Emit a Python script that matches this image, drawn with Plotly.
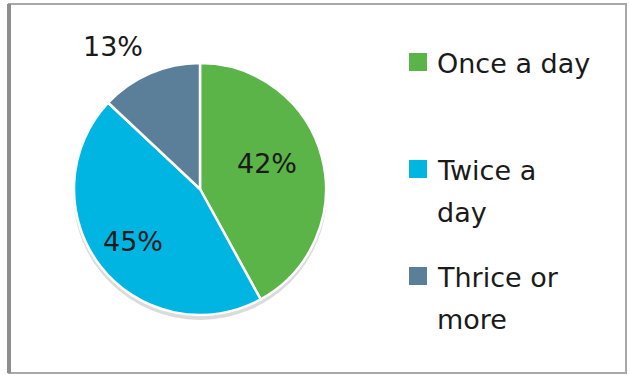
import plotly.graph_objects as go

# Brushing frequency shares
categories = ["Once a day", "Twice a day", "Thrice or more"]
shares = [42, 45, 13]
colors = ["#5BB447", "#00B5E2", "#5B7F98"]
legend_lines = [["Once a day"], ["Twice a", "day"], ["Thrice or", "more"]]

W, H = 630, 375
CX, CY, R = 200, 189, 126          # pie centre and radius, px
FONT = "DejaVu Sans"
FS = 27


def px(x):
    return x / W


def py(y):
    return 1 - y / H


fig = go.Figure()

# soft drop shadow under the pie
SH = 4
fig.add_trace(go.Pie(
    values=[1], labels=["shadow"], sort=False,
    marker=dict(colors=["rgba(0,0,0,0.14)"], line=dict(width=0)),
    textinfo="none", hoverinfo="skip", showlegend=False,
    domain=dict(x=[px(CX - R - 1), px(CX + R + 1)],
                y=[py(CY + R + 1 + SH), py(CY - R - 1 + SH)]),
))

fig.add_trace(go.Pie(
    labels=categories, values=shares, sort=False, direction="clockwise",
    rotation=0,
    marker=dict(colors=colors, line=dict(color="white", width=2.5)),
    textinfo="none", hoverinfo="label+percent", showlegend=False,
    domain=dict(x=[px(CX - R), px(CX + R)], y=[py(CY + R), py(CY - R)]),
))

annotations = []
shapes = []

# percentage labels
label_pos = [(267, 163), (133, 241), (113, 46)]
for v, (lx, ly) in zip(shares, label_pos):
    annotations.append(dict(
        x=px(lx), y=py(ly), xref="paper", yref="paper", showarrow=False,
        text=f"{v}%", xanchor="center", yanchor="middle",
        font=dict(family=FONT, size=FS, color="#1a1a1a"),
    ))

# legend: swatch + wrapped label
LEG_X = 418
SW = 18
LINE = 42
item_y = [62, 169, 276]
for col, lines, iy in zip(colors, legend_lines, item_y):
    shapes.append(dict(
        type="rect", xref="paper", yref="paper",
        x0=px(LEG_X - SW / 2), x1=px(LEG_X + SW / 2),
        y0=py(iy + SW / 2), y1=py(iy - SW / 2),
        fillcolor=col, line=dict(width=0),
    ))
    for k, t in enumerate(lines):
        annotations.append(dict(
            x=px(435), y=py(iy + 1 + k * LINE), xref="paper", yref="paper",
            showarrow=False, text=t, xanchor="left", yanchor="middle",
            font=dict(family=FONT, size=FS, color="#1a1a1a"),
        ))

# chart frame
shapes.append(dict(
    type="rect", xref="paper", yref="paper",
    x0=px(9), x1=px(626), y0=py(373), y1=py(4),
    line=dict(color="#A8A8A8", width=2), fillcolor="rgba(0,0,0,0)",
))
shapes.append(dict(
    type="line", xref="paper", yref="paper",
    x0=px(9), x1=px(9), y0=py(373), y1=py(4),
    line=dict(color="#8E8E8E", width=4),
))

fig.update_layout(
    width=W, height=H,
    margin=dict(l=0, r=0, t=0, b=0),
    paper_bgcolor="white", plot_bgcolor="white",
    annotations=annotations, shapes=shapes,
    showlegend=False,
)

fig.write_html("out.html")
